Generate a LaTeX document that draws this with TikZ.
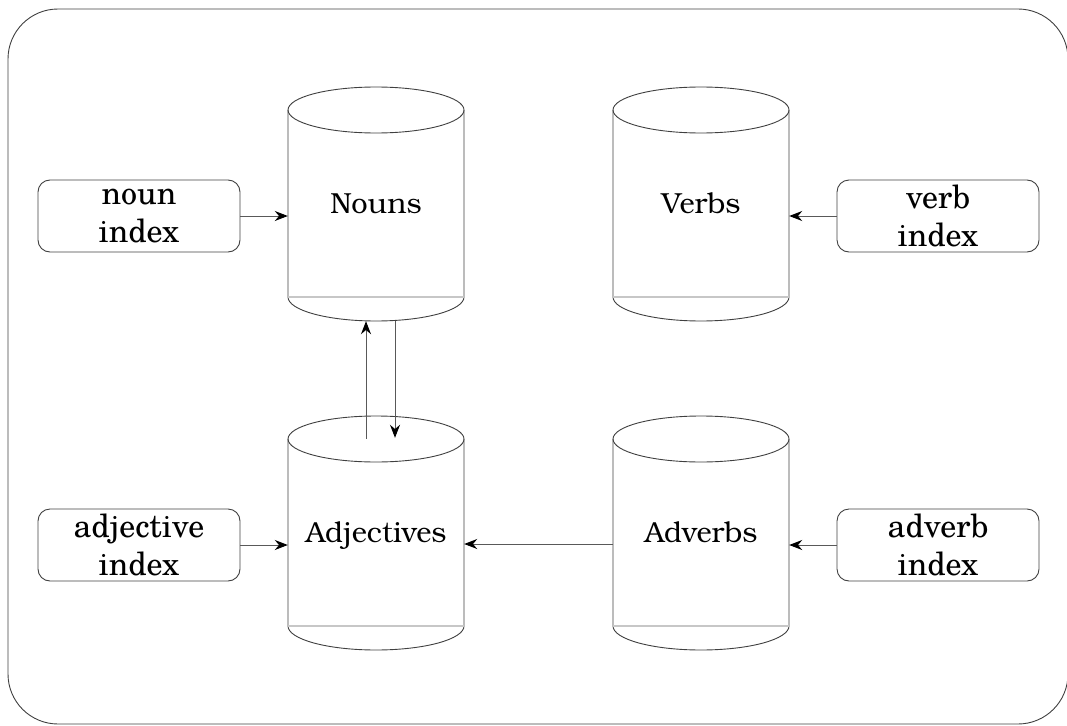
\documentclass[tikz,border=0pt]{standalone}
\usepackage{fontspec}
\usetikzlibrary{arrows.meta}

% Type faces: Bookman for the stores, Century Schoolbook for the indexes
\newfontfamily\bookface{TeX Gyre Bonum}
\newfontfamily\schoolface{TeX Gyre Schola}
\newcommand\idxfont{\schoolface\fontsize{32}{38}\selectfont}
\newcommand\dbfont{\bookface\fontsize{29}{34}\selectfont}

\tikzset{
  frame/.style={draw=black!75, line width=0.9pt, rounded corners=50pt},
  idxbox/.style={draw=black!75, line width=0.9pt, rounded corners=12pt,
    minimum width=202pt, minimum height=72pt, inner sep=0pt,
    align=center, font=\idxfont},
  link/.style={draw=black!65, line width=1pt,
    -{Stealth[length=13pt,width=10pt,color=black]}},
  cylline/.style={draw=black!75, line width=0.9pt},
  cylbase/.style={draw=black!22, line width=1.3pt},
  dblabel/.style={font=\dbfont, inner sep=0pt, text height=19pt, text depth=0pt,
    minimum width=176pt, minimum height=234pt}
}

% A database cylinder: #1 name, #2 centre x, #3 top y, #4 label
\newcommand\dbcyl[4]{%
  \draw[cylline] (#2,#3-23) ellipse[x radius=88, y radius=23];
  \draw[cylline] (#2-88,#3-23) -- (#2-88,#3-210)
     arc[start angle=180, end angle=360, x radius=88, y radius=24]
     -- (#2+88,#3-23);
  \draw[cylbase] (#2-88,#3-210) -- (#2+88,#3-210);
  \node[dblabel] (#1) at (#2,#3-117) {#4};
}

\begin{document}
\begin{tikzpicture}[x=1pt, y=1pt]
  \useasboundingbox (0,0) rectangle (1067,-725);
  \clip (0,0) rectangle (1067,-725);

  % outer frame
  \draw[frame] (8,-9) rectangle (1068,-724);

  % the four stores
  \dbcyl{nouns}{376}{-87}{Nouns}
  \dbcyl{verbs}{701}{-87}{Verbs}
  \dbcyl{adj}{376}{-416}{Adjectives}
  \dbcyl{adv}{701}{-416}{Adverbs}

  % index files
  \node[idxbox] (nounidx) at (139,-216) {noun\\index};
  \node[idxbox] (verbidx) at (938,-216) {verb\\index};
  \node[idxbox] (adjidx)  at (139,-545) {adjective\\index};
  \node[idxbox] (advidx)  at (938,-545) {adverb\\index};

  % pointers
  \draw[link] (nounidx) -- (nounidx -| nouns.west);
  \draw[link] (verbidx) -- (verbidx -| verbs.east);
  \draw[link] (adjidx) -- (adjidx -| adj.west);
  \draw[link] (advidx) -- (advidx -| adv.east);
  \draw[link] ([yshift=-11pt]adv.west) -- ([yshift=-11pt]adj.east);
  \draw[link] ([shift={(-10pt,-23pt)}]adj.north) -- ([xshift=-10pt]nouns.south);
  \draw[link] ([xshift=19pt]nouns.south) -- ([shift={(19pt,-22pt)}]adj.north);
\end{tikzpicture}
\end{document}
